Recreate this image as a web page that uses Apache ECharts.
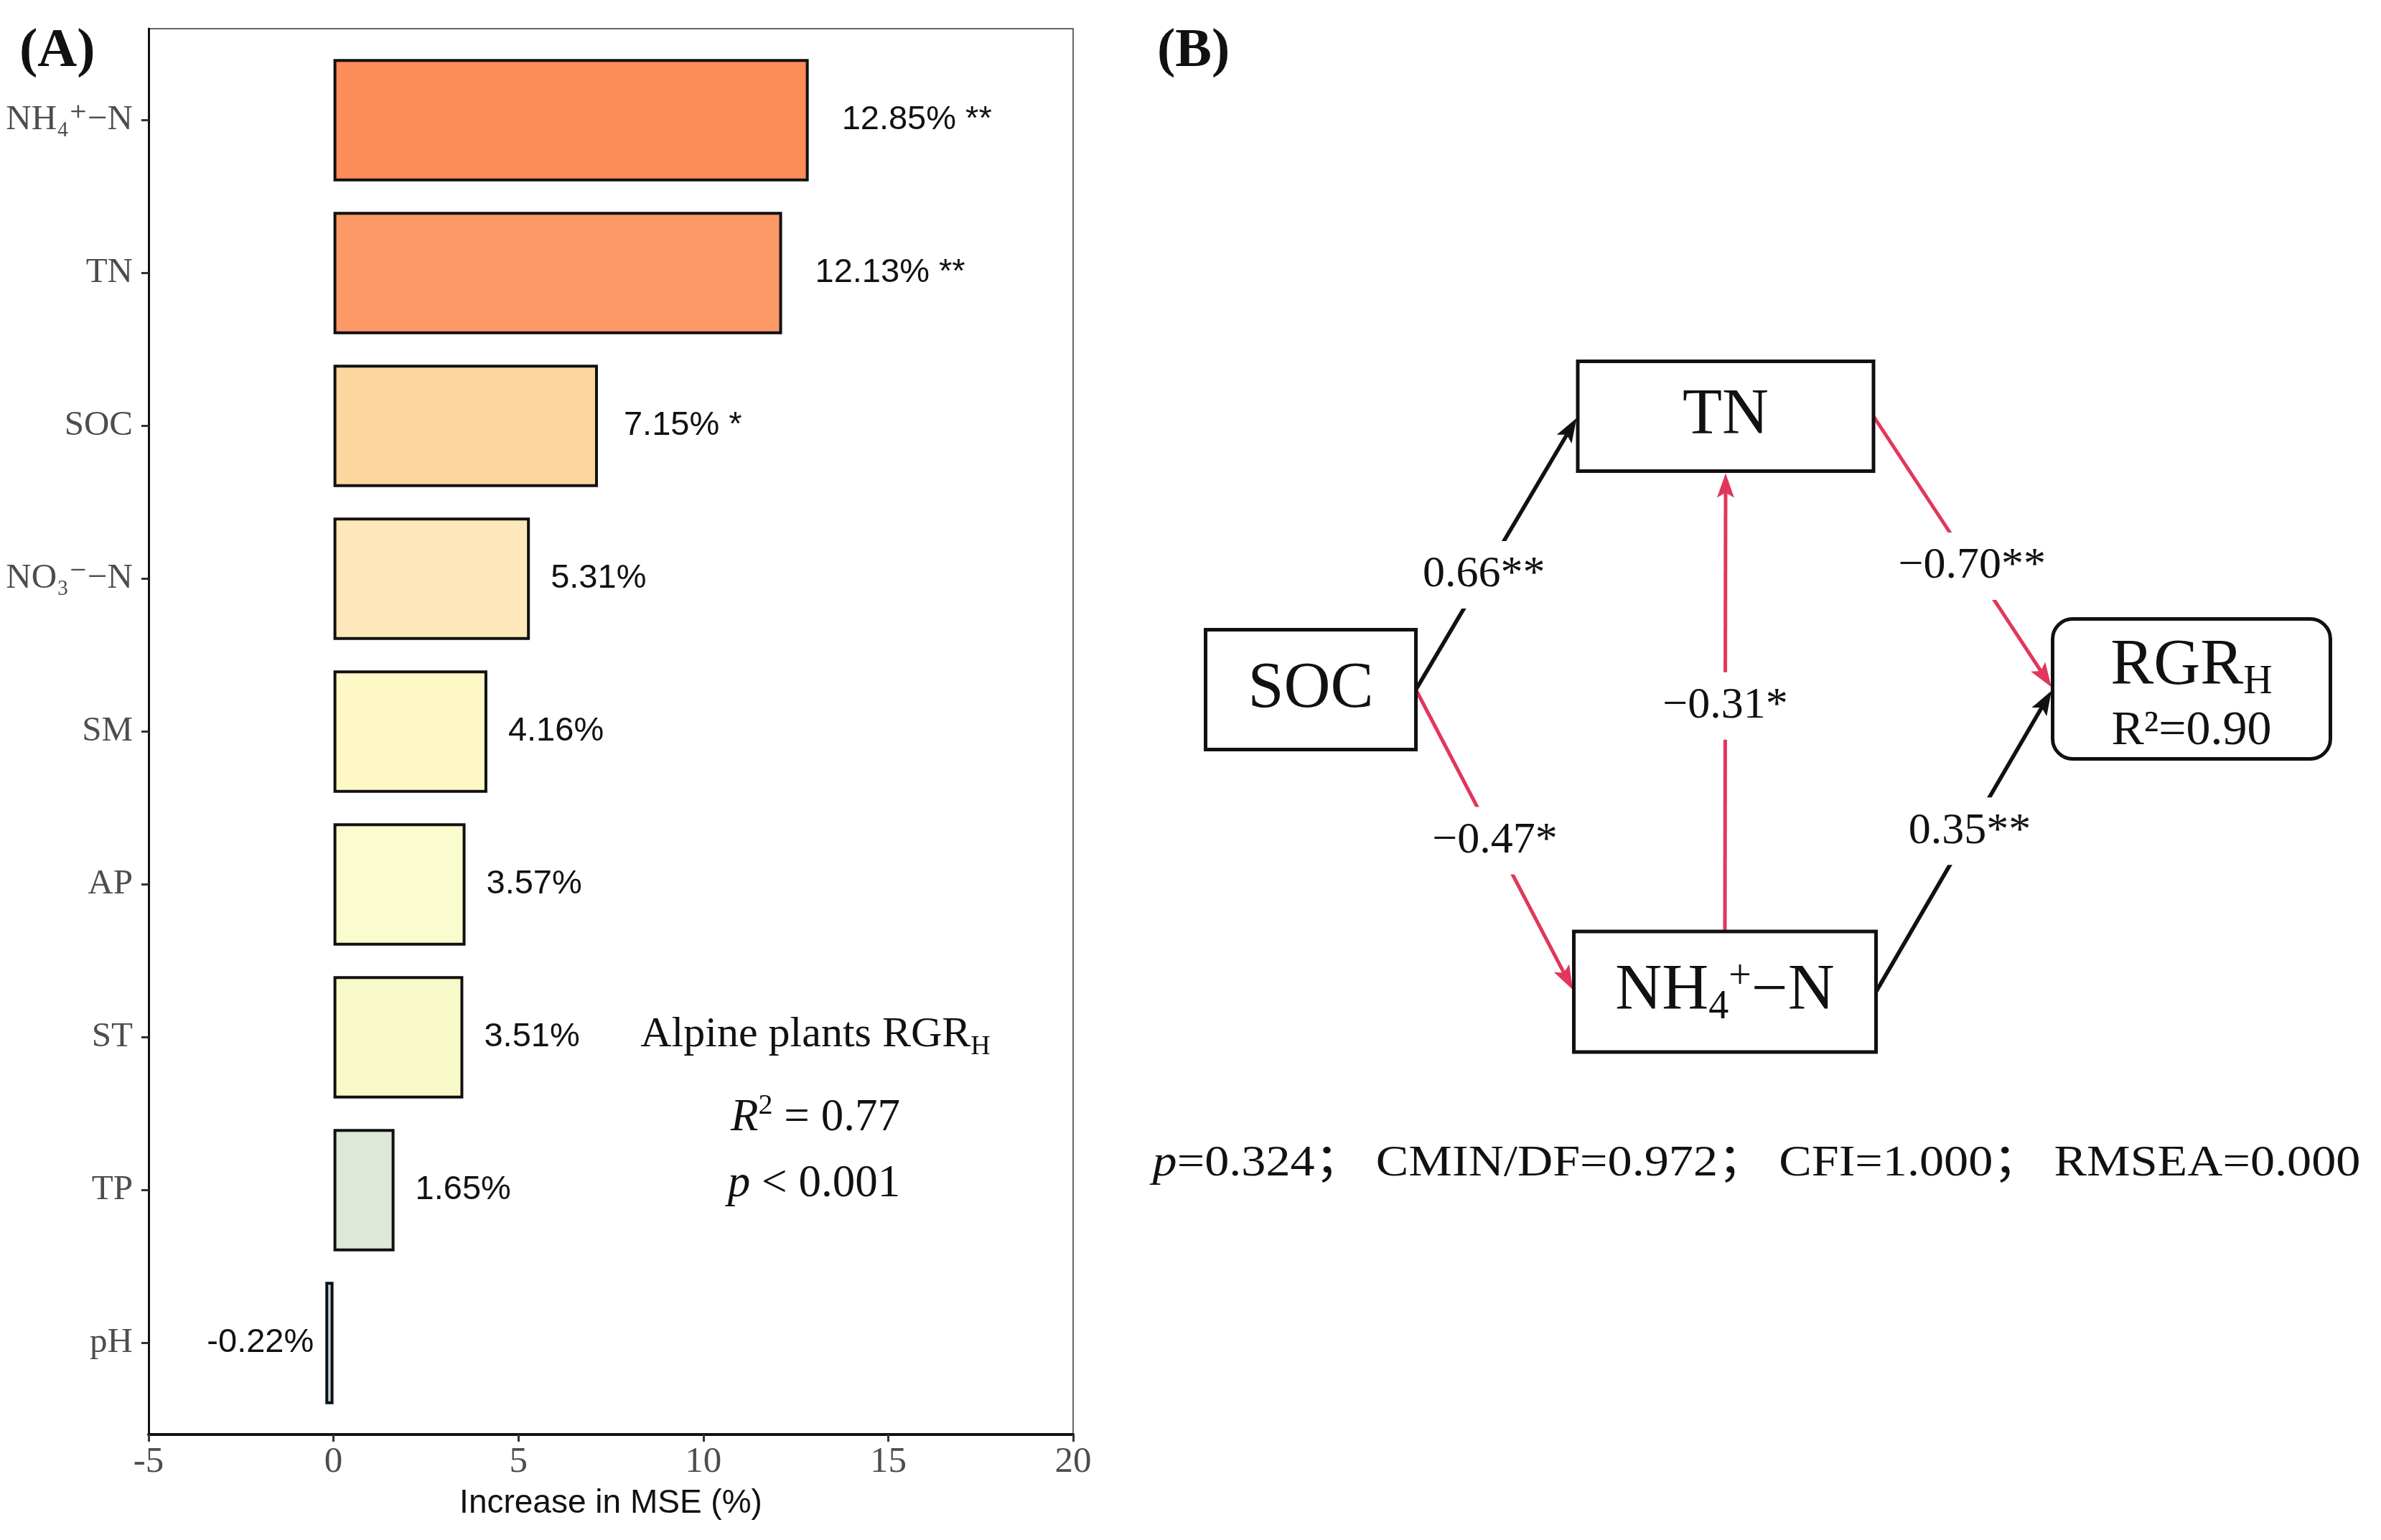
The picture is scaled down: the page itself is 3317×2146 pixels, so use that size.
<!DOCTYPE html>
<html>
<head>
<meta charset="utf-8">
<script src="https://cdn.jsdelivr.net/npm/echarts@6/dist/echarts.min.js"></script>
<style>html,body{margin:0;padding:0;background:#fff}#c{width:3317px;height:2146px}</style>
</head>
<body>
<div id="c"></div>
<script>
// ---------- Panel A data ----------
const categories = ['pH', 'TP', 'ST', 'AP', 'SM', 'NO₃⁻−N', 'SOC', 'TN', 'NH₄⁺−N'];
const incMSE = [-0.22, 1.65, 3.51, 3.57, 4.16, 5.31, 7.15, 12.13, 12.85];
const signif = ['', '', '', '', '', '', '*', '**', '**'];
const xTicks = [-5, 0, 5, 10, 15, 20];

// ---------- Panel B data ----------
const semNodes = ['SOC', 'TN', 'NH4', 'RGR'];
const pathFrom = ['SOC', 'SOC', 'TN', 'NH4', 'NH4'];
const pathTo = ['TN', 'NH4', 'RGR', 'RGR', 'TN'];
const pathCoef = [0.66, -0.47, -0.70, 0.35, -0.31];
const pathSig = ['**', '*', '**', '**', '*'];
const fitText = 'p=0.324；CMIN/DF=0.972；CFI=1.000；RMSEA=0.000';

// ---------- styles / layout ----------
const barColors = ['#BCD6E8', '#DDE8D8', '#F8F9C8', '#FAFCCD', '#FEF7C6', '#FEE8B9', '#FDD59F', '#FD9867', '#FC8D59'];
const SERIF = '"Liberation Serif", "Times New Roman", "DejaVu Serif", serif';
const SANS = '"Liberation Sans", Arial, "DejaVu Sans", sans-serif';
const RED = '#E2365B';
const BLACK = '#111111';

const nodeLayout = {
  SOC: {cx: 226, cy: 511, w: 293, h: 167, r: 0},
  TN:  {cx: 804, cy: 130, w: 412, h: 153, r: 0},
  NH4: {cx: 803, cy: 932, w: 421, h: 168, r: 0},
  RGR: {cx: 1453, cy: 510, w: 387, h: 195, r: 28}
};
const pathSides = [['r', 'l'], ['r', 'l'], ['r', 'l'], ['r', 'l'], ['t', 'b']];
const pathLabelAt = [0.42, 0.5, 0.55, 0.53, 0.49];

const nodeRich = {
  m: {fontFamily: SERIF, fontSize: 90, fill: BLACK, color: BLACK, lineHeight: 118},
  sub: {fontFamily: SERIF, fontSize: 56, fill: BLACK, color: BLACK, padding: [44, 0, 0, 0], lineHeight: 118},
  sup: {fontFamily: SERIF, fontSize: 56, fill: BLACK, color: BLACK, padding: [0, 0, 40, 0], lineHeight: 118},
  s: {fontFamily: SERIF, fontSize: 68, fill: BLACK, color: BLACK, lineHeight: 62}
};
const nodeText = {
  SOC: '{m|SOC}',
  TN: '{m|TN}',
  NH4: '{m|NH}{sub|4}{sup|+}{m|−N}',
  RGR: '{m|RGR}{sub|H}\n{s|R²=0.90}'
};

// measure label widths (ggplot-like hjust offset)
const mctx = document.createElement('canvas').getContext('2d');
mctx.font = '47px ' + SANS;

function labelText(i) {
  return incMSE[i].toFixed(2) + '%' + (signif[i] ? ' ' + signif[i] : '');
}

const barData = incMSE.map((v, i) => {
  const t = labelText(i);
  const w = mctx.measureText(t).width;
  return {
    value: v,
    itemStyle: {color: barColors[i]},
    label: {
      position: v < 0 ? 'left' : 'right',
      distance: v < 0 ? 16 : Math.round(w * 0.22)
    }
  };
});

function anchor(name, side) {
  const L = nodeLayout[name];
  if (side === 'r') return [L.cx + L.w / 2, L.cy];
  if (side === 'l') return [L.cx - L.w / 2, L.cy];
  if (side === 't') return [L.cx, L.cy - L.h / 2];
  return [L.cx, L.cy + L.h / 2];
}

const chart = echarts.init(document.getElementById('c'), null, {renderer: 'canvas'});

const option = {
  backgroundColor: '#ffffff',
  animation: false,
  grid: [
    {left: 207, right: 1822, top: 61, bottom: 168},
    {left: 207, right: 1822, top: 40, bottom: 147, show: true, borderColor: '#666', borderWidth: 2, backgroundColor: 'transparent'},
    {left: 1600, right: 17, top: 450, bottom: 596}
  ],
  xAxis: [
    {gridIndex: 0, type: 'value', min: xTicks[0], max: xTicks[xTicks.length - 1], show: false},
    {
      gridIndex: 1, type: 'value', min: xTicks[0], max: xTicks[xTicks.length - 1], interval: xTicks[1] - xTicks[0],
      axisLine: {show: true, onZero: false, lineStyle: {color: BLACK, width: 4}},
      axisTick: {show: true, length: 10, lineStyle: {color: '#333', width: 3}},
      axisLabel: {fontFamily: SERIF, fontSize: 51, color: '#4d4d4d', margin: 13},
      splitLine: {show: false},
      name: 'Increase in MSE (%)', nameLocation: 'middle', nameGap: 73,
      nameTextStyle: {fontFamily: SANS, fontSize: 46, color: BLACK}
    },
    {gridIndex: 2, type: 'value', min: 0, max: 1700, show: false}
  ],
  yAxis: [
    {
      gridIndex: 0, type: 'category', data: categories,
      axisLine: {show: false, onZero: false},
      axisTick: {show: true, alignWithLabel: true, length: 10, lineStyle: {color: '#333', width: 3}},
      axisLabel: {fontFamily: SERIF, fontSize: 49, color: '#4d4d4d', margin: 22},
      splitLine: {show: false}
    },
    {
      gridIndex: 1, type: 'value', min: 0, max: 1,
      axisLine: {show: true, onZero: false, lineStyle: {color: BLACK, width: 3}},
      axisTick: {show: false}, axisLabel: {show: false}, splitLine: {show: false}
    },
    {gridIndex: 2, type: 'value', min: 0, max: 1100, inverse: true, show: false}
  ],
  series: [
    {
      type: 'bar', xAxisIndex: 0, yAxisIndex: 0,
      data: barData,
      barWidth: '80%',
      itemStyle: {borderColor: BLACK, borderWidth: 4},
      label: {
        show: true, fontFamily: SANS, fontSize: 47, color: BLACK,
        formatter: p => labelText(p.dataIndex)
      }
    },
    {
      type: 'custom', xAxisIndex: 2, yAxisIndex: 2, clip: false,
      data: pathCoef.map((c, i) => [i, i]),
      renderItem: function (params, api) {
        const i = params.dataIndex;
        const a0 = anchor(pathFrom[i], pathSides[i][0]);
        const a1 = anchor(pathTo[i], pathSides[i][1]);
        const p0 = api.coord(a0), p1 = api.coord(a1);
        const dx = p1[0] - p0[0], dy = p1[1] - p0[1];
        const len = Math.sqrt(dx * dx + dy * dy);
        const ux = dx / len, uy = dy / len, nx = -uy, ny = ux;
        const tip = [p1[0] - ux * 3, p1[1] - uy * 3];
        const aL = 34, aW = 12;
        const base = [tip[0] - ux * aL, tip[1] - uy * aL];
        const notch = [tip[0] - ux * (aL - 7), tip[1] - uy * (aL - 7)];
        const col = pathCoef[i] < 0 ? RED : BLACK;
        const lw = pathCoef[i] < 0 ? 5 : 5.5;
        const t = pathLabelAt[i];
        const lp = [p0[0] + dx * t, p0[1] + dy * t];
        const txt = (pathCoef[i] < 0 ? '−' : '') + Math.abs(pathCoef[i]).toFixed(2) + pathSig[i];
        return {
          type: 'group',
          children: [
            {type: 'line', shape: {x1: p0[0], y1: p0[1], x2: notch[0], y2: notch[1]}, style: {stroke: col, lineWidth: lw}},
            {type: 'polygon', shape: {points: [tip, [base[0] + nx * aW, base[1] + ny * aW], notch, [base[0] - nx * aW, base[1] - ny * aW]]}, style: {fill: col}},
            {type: 'text', x: lp[0], y: lp[1], style: {
              text: txt, font: '62px ' + SERIF, fill: BLACK, align: 'center', verticalAlign: 'middle',
              backgroundColor: '#fff', padding: [16, 10]
            }}
          ]
        };
      }
    },
    {
      type: 'custom', xAxisIndex: 2, yAxisIndex: 2, clip: false,
      data: semNodes.map((n, i) => [nodeLayout[n].cx, nodeLayout[n].cy]),
      renderItem: function (params, api) {
        const n = semNodes[params.dataIndex];
        const L = nodeLayout[n];
        const c = api.coord([L.cx, L.cy]);
        const s = api.size([L.w, L.h]);
        return {
          type: 'group',
          children: [
            {type: 'rect', shape: {x: c[0] - s[0] / 2, y: c[1] - s[1] / 2, width: s[0], height: s[1], r: L.r},
             style: {fill: '#fff', stroke: BLACK, lineWidth: 5}},
            {type: 'text', x: c[0], y: c[1], style: {
              text: nodeText[n], rich: nodeRich, align: 'center', verticalAlign: 'middle',
              font: '90px ' + SERIF, fill: BLACK
            }}
          ]
        };
      }
    }
  ],
  graphic: [
    {type: 'text', x: 27, y: 72, style: {text: '(A)', font: 'bold 76px ' + SERIF, fill: BLACK, align: 'left', verticalAlign: 'middle'}},
    {type: 'text', x: 1612, y: 72, style: {text: '(B)', font: 'bold 76px ' + SERIF, fill: BLACK, align: 'left', verticalAlign: 'middle'}},
    {type: 'text', x: 1136, y: 1442, style: {
      text: '{a|Alpine plants RGR}{sub|H}', align: 'center', verticalAlign: 'middle', font: '60px ' + SERIF, fill: BLACK,
      rich: {
        a: {fontFamily: SERIF, fontSize: 60, fill: BLACK, color: BLACK},
        sub: {fontFamily: SERIF, fontSize: 38, fill: BLACK, color: BLACK, padding: [34, 0, 0, 0]}
      }
    }},
    {type: 'text', x: 1136, y: 1558, style: {
      text: '{i|R}{sup|2}{n| = 0.77}', align: 'center', verticalAlign: 'middle', font: '63px ' + SERIF, fill: BLACK,
      rich: {
        i: {fontFamily: SERIF, fontSize: 63, fontStyle: 'italic', fill: BLACK, color: BLACK},
        sup: {fontFamily: SERIF, fontSize: 40, fill: BLACK, color: BLACK, padding: [0, 0, 34, 0]},
        n: {fontFamily: SERIF, fontSize: 63, fill: BLACK, color: BLACK}
      }
    }},
    {type: 'text', x: 1134, y: 1650, style: {
      text: '{i|p}{n| < 0.001}', align: 'center', verticalAlign: 'middle', font: '63px ' + SERIF, fill: BLACK,
      rich: {
        i: {fontFamily: SERIF, fontSize: 63, fontStyle: 'italic', fill: BLACK, color: BLACK},
        n: {fontFamily: SERIF, fontSize: 63, fill: BLACK, color: BLACK}
      }
    }},
    {type: 'text', x: 2447, y: 1622, scaleX: 1.1, originX: 0, originY: 0, style: {
      text: '{i|p}{n|' + fitText.slice(1).replace(/；/g, '； ') + '}', align: 'center', verticalAlign: 'middle',
      font: '62px ' + SERIF, fill: BLACK,
      rich: {
        i: {fontFamily: SERIF, fontSize: 62, fontStyle: 'italic', fill: BLACK, color: BLACK},
        n: {fontFamily: '"Liberation Serif", "Times New Roman", "Noto Sans CJK SC", serif', fontSize: 62, fill: BLACK, color: BLACK}
      }
    }}
  ]
};
chart.setOption(option);
</script>
</body>
</html>
